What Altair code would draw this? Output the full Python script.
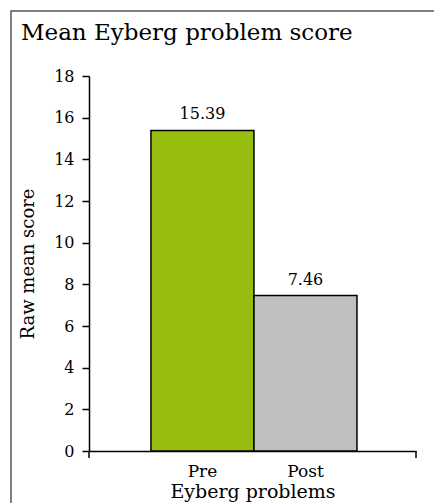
import altair as alt
import pandas as pd

# ---- data ----
categories = ["Pre", "Post"]
scores = [15.39, 7.46]
bar_colors = ["#97BD0E", "#BFBFBF"]
y_ticks = [0, 2, 4, 6, 8, 10, 12, 14, 16, 18]
chart_title = "Mean Eyberg problem score"
x_title = "Eyberg problems"
y_title = "Raw mean score"

W, H = 327, 375
FONT = "DejaVu Serif"

df = pd.DataFrame({"phase": categories, "score": scores})
one = pd.DataFrame({"k": [0]})

x_enc = alt.X(
    "phase:N",
    sort=categories,
    title=x_title,
    scale=alt.Scale(paddingInner=0, paddingOuter=0.587, align=0.512),
    axis=alt.Axis(
        labelAngle=0, ticks=False, labelPadding=25, labelBaseline="alphabetic",
        labelFont=FONT, labelFontSize=17, labelColor="black",
        domainColor="black", domainWidth=1.5,
        titleFont=FONT, titleFontSize=19, titleFontWeight="normal", titleColor="black",
        titleY=46, titleX=W / 2, titleBaseline="alphabetic", titleAlign="center",
    ),
)
y_enc = alt.Y(
    "score:Q",
    scale=alt.Scale(domain=[0, 18], nice=False),
    title=y_title,
    axis=alt.Axis(
        values=y_ticks, grid=False, tickSize=7, tickWidth=1.5, tickColor="black",
        labelPadding=8, labelFont=FONT, labelFontSize=16, labelColor="black",
        domainColor="black", domainWidth=1.5,
        titleFont=FONT, titleFontSize=18, titleFontWeight="normal", titleColor="black",
        titleAngle=-90, titleX=-52, titleY=H / 2, titleAlign="center", titleBaseline="bottom",
    ),
)

frame = alt.Chart(one).mark_rect(fillOpacity=0, stroke="#555555", strokeWidth=1.5).encode(
    x=alt.value(-78), x2=alt.value(W + 80), y=alt.value(-65), y2=alt.value(H + 120)
)

title = alt.Chart(one).mark_text(
    text=chart_title, align="left", baseline="alphabetic", font=FONT, fontSize=23, color="black"
).encode(x=alt.value(-68), y=alt.value(-36))

bars = alt.Chart(df).mark_bar(stroke="black", strokeWidth=1.5).encode(
    x=x_enc,
    y=y_enc,
    color=alt.Color("phase:N", scale=alt.Scale(domain=categories, range=bar_colors), legend=None),
)

labels = alt.Chart(df).mark_text(
    dy=-11, baseline="alphabetic", font=FONT, fontSize=16, color="black"
).encode(
    x=alt.X("phase:N", sort=categories),
    y=alt.Y("score:Q"),
    text=alt.Text("score:Q", format=".2f"),
)

tick_left = alt.Chart(one).mark_rule(color="black", strokeWidth=1.5).encode(
    x=alt.value(0), y=alt.value(H), y2=alt.value(H + 7)
)
tick_right = alt.Chart(one).mark_rule(color="black", strokeWidth=1.5).encode(
    x=alt.value(W), y=alt.value(H), y2=alt.value(H + 7)
)

chart = (
    alt.layer(frame, title, bars, labels, tick_left, tick_right)
    .properties(
        width=W, height=H,
        autosize=alt.AutoSizeParams(type="none"),
        padding={"left": 81, "top": 68, "right": 18, "bottom": 52},
        background="white",
    )
    .configure_view(strokeWidth=0)
)

chart.save("out.html", embed_options={"renderer": "svg", "actions": False})
